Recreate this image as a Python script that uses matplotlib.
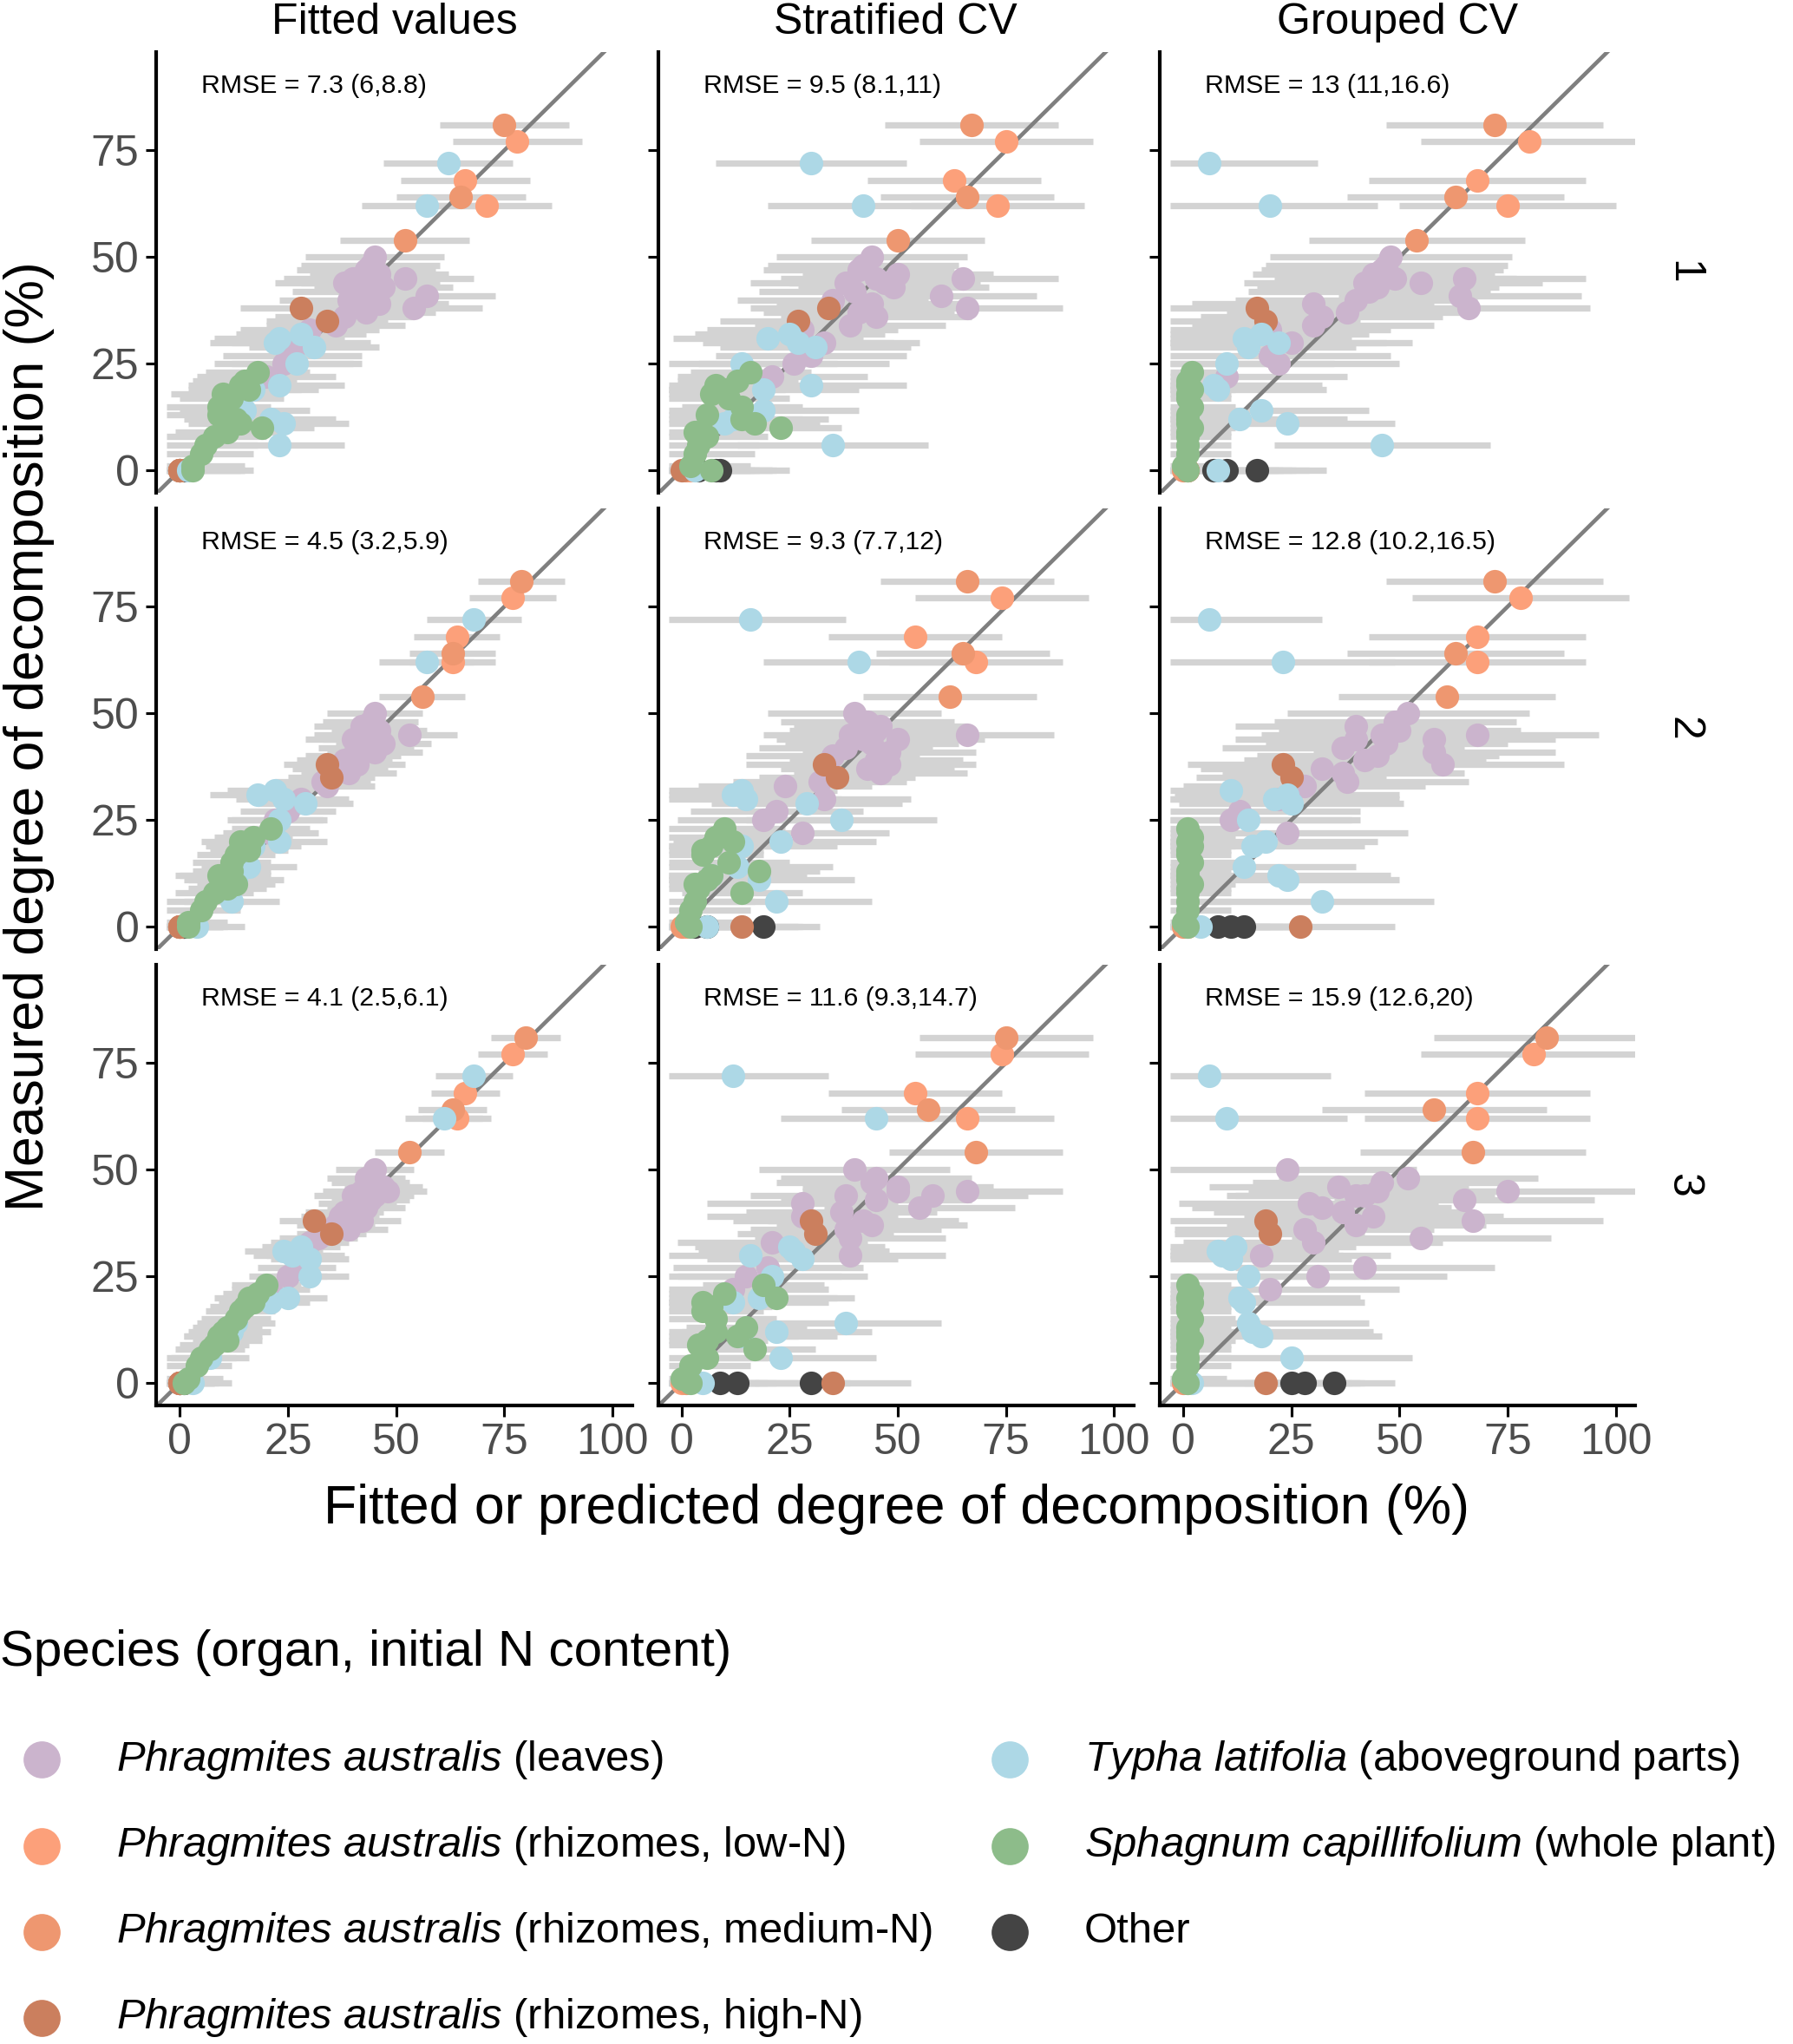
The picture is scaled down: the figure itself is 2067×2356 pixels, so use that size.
import numpy as np
import matplotlib.pyplot as plt
import matplotlib as mpl

plt.rcParams['font.family'] = ['Liberation Sans', 'DejaVu Sans']
mpl.rcParams['mathtext.fontset'] = 'custom'
mpl.rcParams['mathtext.it'] = 'Liberation Sans:italic'
mpl.rcParams['mathtext.rm'] = 'Liberation Sans'

# DATA ########################################################################
species = ["O", "L", "RL", "RM", "RH", "T", "S"]
colors = {"L": "#CBB4CD", "RL": "#FCA07A", "RM": "#EE9770", "RH": "#CB7F5E",
          "T": "#ADD8E6", "S": "#8DBC8A", "O": "#444444"}

# measured degree of decomposition (%), shared by all panels
measured = {
    "L": [50, 48, 47, 46, 45, 45, 44, 44, 43, 42, 41, 40, 39, 38, 37, 36, 34, 33, 30, 27, 25, 22],
    "RL": [77, 68, 62, 0],
    "RM": [81, 64, 54, 0],
    "RH": [38, 35, 0],
    "T": [72, 62, 32, 31, 30, 29, 25, 20, 19, 14, 12, 11, 6, 0],
    "S": [23, 21, 20, 19, 18, 17, 15, 13, 12, 11, 10, 9, 8, 6, 4, 1, 0],
    "O": [0, 0, 0],
}

col_titles = ["Fitted values", "Stratified CV", "Grouped CV"]
row_labels = ["1", "2", "3"]
rmse_labels = [["RMSE = 7.3 (6,8.8)", "RMSE = 9.5 (8.1,11)", "RMSE = 13 (11,16.6)"],
               ["RMSE = 4.5 (3.2,5.9)", "RMSE = 9.3 (7.7,12)", "RMSE = 12.8 (10.2,16.5)"],
               ["RMSE = 4.1 (2.5,6.1)", "RMSE = 11.6 (9.3,14.7)", "RMSE = 15.9 (12.6,20)"]]

pred = [[None] * 3 for _ in range(3)]
halfw = [[None] * 3 for _ in range(3)]

pred[0][0] = {"L": [45, 44, 43, 46, 40, 52, 44, 38, 47, 42, 57, 39, 46, 54, 43, 38, 36, 30, 28, 26, 24, 20],
              "RL": [78, 66, 71, 0], "RM": [75, 65, 52, 0], "RH": [28, 34, 0],
              "T": [62, 57, 28, 23, 22, 31, 27, 23, 17, 15, 21, 24, 23, 2],
              "S": [18, 15, 14, 16, 10, 12, 9, 9, 13, 14, 19, 11, 8, 6, 5, 3, 3], "O": [0, 1, 0]}
halfw[0][0] = {"L": 16, "RL": 15, "RM": 15, "RH": 14, "T": 15, "S": 12, "O": 5}

pred[0][1] = {"L": [44, 42, 41, 50, 45, 65, 38, 47, 49, 40, 60, 35, 44, 66, 41, 45, 39, 28, 33, 30, 26, 21],
              "RL": [75, 63, 73, 2], "RM": [67, 66, 50, 1], "RH": [34, 27, 0],
              "T": [30, 42, 25, 20, 27, 31, 14, 30, 19, 19, 12, 10, 35, 3],
              "S": [16, 13, 8, 10, 7, 11, 14, 6, 14, 17, 23, 3, 6, 4, 3, 2, 7], "O": [8, 9, 4]}
halfw[0][1] = {"L": 22, "RL": 20, "RM": 20, "RH": 18, "T": 22, "S": 14, "O": 8}

pred[0][2] = {"L": [48, 47, 46, 44, 49, 65, 42, 55, 45, 43, 64, 40, 30, 66, 38, 32, 30, 20, 25, 20, 22, 10],
              "RL": [80, 68, 75, 1], "RM": [72, 63, 54, 0], "RH": [17, 19, 1],
              "T": [6, 20, 18, 14, 22, 15, 10, 7, 8, 18, 13, 24, 46, 8],
              "S": [2, 1, 1, 2, 1, 1, 2, 1, 1, 1, 2, 1, 1, 1, 1, 0, 1], "O": [10, 17, 7]}
halfw[0][2] = {"L": 28, "RL": 25, "RM": 25, "RH": 22, "T": 25, "S": 10, "O": 12}

pred[1][0] = {"L": [45, 44, 42, 46, 42, 53, 40, 44, 47, 43, 45, 40, 38, 41, 37, 39, 33, 34, 28, 25, 22, 21],
              "RL": [77, 64, 63, 0], "RM": [79, 63, 56, 0], "RH": [34, 35, 0],
              "T": [68, 57, 22, 18, 24, 29, 23, 23, 17, 16, 10, 13, 12, 4],
              "S": [21, 17, 14, 16, 16, 13, 12, 12, 9, 10, 13, 11, 8, 6, 5, 2, 2], "O": [1, 0, 1]}
halfw[1][0] = {"L": 11, "RL": 10, "RM": 10, "RH": 10, "T": 11, "S": 9, "O": 4}

pred[1][1] = {"L": [40, 43, 46, 45, 39, 66, 42, 50, 44, 38, 48, 35, 45, 48, 43, 46, 32, 24, 33, 22, 19, 28],
              "RL": [74, 54, 68, 1], "RM": [66, 65, 62, 0], "RH": [33, 36, 14],
              "T": [16, 41, 14, 12, 15, 29, 37, 23, 14, 13, 7, 18, 22, 6],
              "S": [10, 8, 12, 7, 5, 5, 11, 18, 7, 6, 3, 4, 14, 3, 2, 1, 2], "O": [19, 3, 6]}
halfw[1][1] = {"L": 20, "RL": 20, "RM": 20, "RH": 18, "T": 22, "S": 14, "O": 8}

pred[1][2] = {"L": [52, 49, 40, 50, 46, 68, 58, 40, 47, 37, 58, 45, 42, 60, 32, 37, 38, 28, 22, 13, 11, 24],
              "RL": [78, 68, 68, 1], "RM": [72, 63, 61, 0], "RH": [23, 25, 27],
              "T": [6, 23, 11, 24, 21, 25, 15, 19, 16, 14, 22, 24, 32, 4],
              "S": [1, 2, 1, 2, 1, 1, 2, 1, 1, 1, 2, 1, 1, 1, 1, 0, 1], "O": [8, 11, 14]}
halfw[1][2] = {"L": 28, "RL": 25, "RM": 25, "RH": 22, "T": 26, "S": 10, "O": 12}

pred[2][0] = {"L": [45, 43, 44, 47, 42, 48, 40, 45, 44, 41, 43, 38, 37, 42, 36, 39, 32, 30, 29, 27, 25, 21],
              "RL": [77, 66, 64, 0], "RM": [80, 63, 53, 0], "RH": [31, 35, 0],
              "T": [68, 61, 28, 24, 26, 30, 30, 25, 21, 13, 12, 10, 7, 3],
              "S": [20, 18, 16, 17, 15, 14, 13, 11, 10, 9, 11, 8, 7, 5, 4, 2, 1], "O": [0, 1, 0]}
halfw[2][0] = {"L": 9, "RL": 8, "RM": 8, "RH": 8, "T": 9, "S": 8, "O": 3}

pred[2][1] = {"L": [40, 45, 44, 50, 50, 66, 38, 58, 45, 28, 55, 37, 28, 42, 44, 38, 39, 21, 39, 20, 15, 12],
              "RL": [74, 54, 66, 0], "RM": [75, 57, 68, 1], "RH": [30, 31, 35],
              "T": [12, 45, 25, 26, 16, 28, 21, 18, 12, 38, 22, 14, 23, 5],
              "S": [19, 10, 22, 5, 7, 5, 8, 15, 8, 13, 6, 4, 17, 6, 2, 0, 2], "O": [30, 13, 9]}
halfw[2][1] = {"L": 22, "RL": 20, "RM": 20, "RH": 18, "T": 22, "S": 14, "O": 9}

pred[2][2] = {"L": [24, 52, 46, 36, 45, 75, 40, 42, 65, 29, 32, 37, 44, 67, 40, 28, 55, 30, 18, 42, 31, 20],
              "RL": [81, 68, 68, 1], "RM": [84, 58, 67, 0], "RH": [19, 20, 19],
              "T": [6, 10, 12, 8, 9, 11, 15, 13, 14, 15, 16, 18, 25, 2],
              "S": [1, 2, 1, 2, 1, 1, 2, 1, 1, 1, 2, 1, 1, 1, 1, 0, 1], "O": [25, 28, 35]}
halfw[2][2] = {"L": 30, "RL": 26, "RM": 26, "RH": 22, "T": 28, "S": 10, "O": 14}

legend_entries = [
    ("L", r"$\it{Phragmites\ australis}$ (leaves)"),
    ("RL", r"$\it{Phragmites\ australis}$ (rhizomes, low-N)"),
    ("RM", r"$\it{Phragmites\ australis}$ (rhizomes, medium-N)"),
    ("RH", r"$\it{Phragmites\ australis}$ (rhizomes, high-N)"),
    ("T", r"$\it{Typha\ latifolia}$ (aboveground parts)"),
    ("S", r"$\it{Sphagnum\ capillifolium}$ (whole plant)"),
    ("O", "Other"),
]

# PLOT ########################################################################
W, H = 1376, 1568
fig = plt.figure(figsize=(2067 / 150, 2356 / 150), dpi=150)

left0, aw, gap = 120, 365, 20
top0, ah, vgap = 40, 338, 12

for r in range(3):
    for c in range(3):
        x0 = left0 + c * (aw + gap)
        y0 = top0 + r * (ah + vgap)
        ax = fig.add_axes([x0 / W, 1 - (y0 + ah) / H, aw / W, ah / H])
        for sp in species:
            xs = np.array(pred[r][c][sp], float)
            ys = np.array(measured[sp], float)
            hw = halfw[r][c][sp]
            ax.hlines(ys, np.clip(xs - hw, -3, None), xs + hw, color="#D3D3D3", lw=3.5, zorder=1)
        ax.plot([-10, 110], [-10, 110], color="#7F7F7F", lw=2.2, zorder=2)
        for sp in species:
            ax.scatter(pred[r][c][sp], measured[sp], s=170, color=colors[sp], lw=0, zorder=3)
        ax.set_xlim(-5.4, 104.5)
        ax.set_ylim(-5.2, 98)
        ax.set_xticks([0, 25, 50, 75, 100])
        ax.set_yticks([0, 25, 50, 75])
        for s in ["top", "right"]:
            ax.spines[s].set_visible(False)
        ax.spines["left"].set_linewidth(2)
        ax.spines["bottom"].set_linewidth(2)
        ax.tick_params(labelsize=24, labelcolor="#4D4D4D", width=1.5, length=6)
        if r < 2:
            ax.spines["bottom"].set_visible(False)
            ax.tick_params(axis="x", length=0, labelbottom=False)
        if c > 0:
            ax.tick_params(axis="y", labelleft=False)
        ax.text(0.095, 0.923, rmse_labels[r][c], transform=ax.transAxes,
                fontsize=14.5, va="center", ha="left")
        if r == 0:
            ax.set_title(col_titles[c], fontsize=24, pad=10)
        if c == 2:
            ax.text(1.1, 0.5, row_labels[r], transform=ax.transAxes, rotation=-90,
                    fontsize=24, va="center", ha="center")

fig.text(22 / W, 1 - 565 / H, "Measured degree of decomposition (%)", rotation=90,
         fontsize=30, va="center", ha="center")
fig.text(688 / W, 1 - 1158 / H, "Fitted or predicted degree of decomposition (%)",
         fontsize=30, va="center", ha="center")

# legend
lax = fig.add_axes([0, 0, 1, 1])
lax.set_xlim(0, W)
lax.set_ylim(H, 0)
lax.axis("off")
lax.text(0, 1268, "Species (organ, initial N content)", fontsize=28, va="center", ha="left")
for i, (sp, lab) in enumerate(legend_entries):
    col, row = (0, i) if i < 4 else (1, i - 4)
    mx = 32 if col == 0 else 775
    ty = 1350 + row * 66
    lax.scatter([mx], [ty], s=420, color=colors[sp], lw=0)
    lax.text(mx + 57, ty, lab, fontsize=23.5, va="center", ha="left")

plt.savefig("out.png", dpi=150)
